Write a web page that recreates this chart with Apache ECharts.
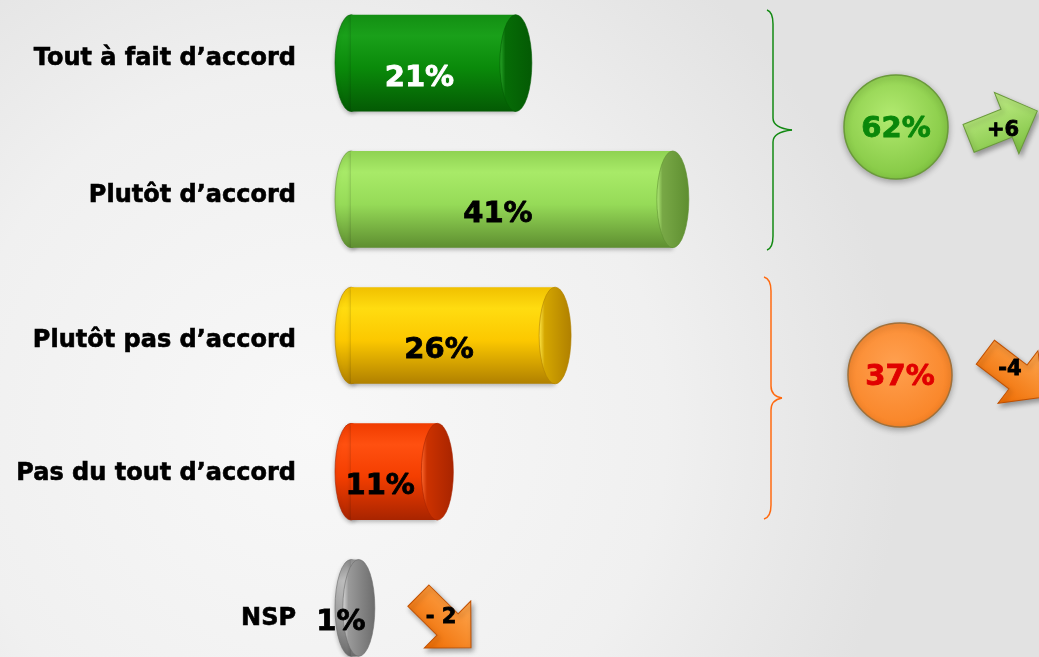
<!DOCTYPE html>
<html>
<head>
<meta charset="utf-8">
<script src="https://cdn.jsdelivr.net/npm/echarts@6/dist/echarts.min.js"></script>
<style>
  html, body { margin: 0; padding: 0; background: #efefef; }
  #chart { width: 1039px; height: 657px; }
</style>
</head>
<body>
<div id="chart"></div>
<script>
// Answer categories and their shares (%)
const categories = ['Tout à fait d’accord', 'Plutôt d’accord', 'Plutôt pas d’accord', 'Pas du tout d’accord', 'NSP'];
const values = [21, 41, 26, 11, 1];
// Grouped totals: agree / disagree
const groupTotals = [62, 37];
// Change versus previous wave
const changes = ['+6', '-4', '- 2'];

// Cylinder palettes: [top, light, base, bottom, cap, capRim]
const palettes = [
  ['#138f13', '#1aa01a', '#0a8a0a', '#045a04', '#066c06', '#2aa82a'],
  ['#8fd252', '#a8ea68', '#96db58', '#5e8e30', '#78a846', '#b4f07a'],
  ['#f0c000', '#ffdc10', '#fcc800', '#b08000', '#d4a600', '#ffe84a'],
  ['#f03c00', '#ff5010', '#f43e00', '#a82400', '#cc3200', '#ff6a30'],
  ['#8c8c8c', '#bdbdbd', '#a2a2a2', '#6c6c6c', '#9a9a9a', '#dadada']
];
const labelColors = ['#ffffff', '#000000', '#000000', '#000000', '#000000'];
// small vertical nudges (px) of the category captions
const captionShift = [-4, -4, 5, 2, 11];

const FONT = '"DejaVu Sans", Verdana, sans-serif';

function vGrad(p) {
  return new echarts.graphic.LinearGradient(0, 0, 0, 1, [
    { offset: 0, color: p[0] },
    { offset: 0.22, color: p[1] },
    { offset: 0.55, color: p[2] },
    { offset: 1, color: p[3] }
  ]);
}

function ellipsePath(cx, cy, rx, ry) {
  return 'M' + (cx - rx) + ',' + cy +
    ' A' + rx + ',' + ry + ' 0 1 0 ' + (cx + rx) + ',' + cy +
    ' A' + rx + ',' + ry + ' 0 1 0 ' + (cx - rx) + ',' + cy + ' Z';
}

// bold text with a thin outline in its own colour for extra weight
function heavyText(x, y, text, color, size) {
  return { type: 'text', x: x, y: y,
    style: { text: text, fill: color, stroke: color, lineWidth: 0.8, font: 'bold ' + size + 'px ' + FONT,
             align: 'center', verticalAlign: 'middle' } };
}

function renderCylinder(params, api) {
  const idx = api.value(1);
  const p = palettes[idx];
  const end = api.coord([api.value(0), idx]);
  const start = api.coord([0, idx]);
  const h = api.size([0, 1])[1] * 0.71;
  const ry = h / 2;
  const rx = 16;
  const cy = end[1];
  const len = end[0] - start[0];
  return {
    type: 'group',
    children: [
      { type: 'path', shape: { pathData: ellipsePath(start[0], cy, rx, ry) },
        style: { fill: vGrad(p), stroke: p[3], lineWidth: 0.6, shadowBlur: 4, shadowColor: 'rgba(0,0,0,0.25)', shadowOffsetY: 2 } },
      { type: 'rect', shape: { x: start[0], y: cy - ry, width: len, height: h },
        style: { fill: vGrad(p), shadowBlur: 4, shadowColor: 'rgba(0,0,0,0.25)', shadowOffsetY: 2 } },
      { type: 'path', shape: { pathData: ellipsePath(end[0], cy, rx, ry) },
        style: { fill: new echarts.graphic.LinearGradient(0, 0, 1, 0, [
            { offset: 0, color: p[5] },
            { offset: 0.18, color: p[4] },
            { offset: 1, color: p[3] }
          ]), stroke: p[3], lineWidth: 0.6 } },
      heavyText(start[0] + len / 2 - 14, cy + 15, api.value(0) + '%', labelColors[idx], 29)
    ]
  };
}

// Curly brace made of quadratic curves and straight strokes
function brace(x0, xv, xt, y0, ym, y1, color) {
  const st = { stroke: color, lineWidth: 1.5, fill: 'none' };
  const q = (a, b, c, d, e, f) => ({ type: 'bezierCurve', shape: { x1: a, y1: b, cpx1: c, cpy1: d, x2: e, y2: f }, style: st });
  const l = (a, b, c, d) => ({ type: 'line', shape: { x1: a, y1: b, x2: c, y2: d }, style: st });
  return {
    type: 'group',
    children: [
      q(x0, y0, xv, y0 + 2, xv, y0 + 14),
      l(xv, y0 + 14, xv, ym - 12),
      q(xv, ym - 12, xv, ym - 2, xt, ym),
      q(xt, ym, xv, ym + 2, xv, ym + 12),
      l(xv, ym + 12, xv, y1 - 14),
      q(xv, y1 - 14, xv, y1 - 2, x0, y1)
    ]
  };
}

// Block arrow pointing along +x, centred on the origin
const arrowPts = [[-36, -15], [5, -15], [5, -33], [38, 0], [5, 33], [5, 15], [-36, 15]];

function arrow(cx, cy, rot, c1, c2, edge, label, tx, ty) {
  return {
    type: 'group', x: cx, y: cy,
    children: [
      { type: 'polygon', rotation: rot, shape: { points: arrowPts },
        style: { fill: new echarts.graphic.LinearGradient(0, 0, 0, 1, [
            { offset: 0, color: c1 }, { offset: 1, color: c2 }]),
          stroke: edge, lineWidth: 1, shadowBlur: 5, shadowColor: 'rgba(0,0,0,0.35)', shadowOffsetX: 2, shadowOffsetY: 3 } },
      heavyText(tx, ty, label, '#000', 21)
    ]
  };
}

function bubble(cx, cy, r, c1, c2, edge, textColor, label) {
  return {
    type: 'group', x: cx, y: cy,
    children: [
      { type: 'circle', shape: { cx: 0, cy: 0, r: r },
        style: { fill: new echarts.graphic.RadialGradient(0.45, 0.4, 0.7, [
            { offset: 0, color: c1 }, { offset: 1, color: c2 }]),
          stroke: edge, lineWidth: 1.5, shadowBlur: 6, shadowColor: 'rgba(0,0,0,0.3)', shadowOffsetY: 2 } },
      heavyText(0, 2, label, textColor, 29)
    ]
  };
}

const rich = {};
captionShift.forEach((d, i) => {
  rich['c' + i] = {
    color: '#000', fontSize: 24, fontWeight: 'bold', fontFamily: FONT,
    textBorderColor: '#000', textBorderWidth: 0.6,
    padding: d >= 0 ? [2 * d, 0, 0, 0] : [0, 0, -2 * d, 0]
  };
});

const chart = echarts.init(document.getElementById('chart'));
chart.setOption({
  animation: false,
  graphic: [
    { type: 'rect', z: -10, silent: true, shape: { x: 0, y: 0, width: 1039, height: 657 },
      style: { fill: new echarts.graphic.RadialGradient(0.3, 0.65, 0.9, [
          { offset: 0, color: '#f8f8f8' }, { offset: 0.6, color: '#f0f0f0' }, { offset: 1, color: '#e2e2e2' }]) } },
    // braces grouping agree / disagree answers
    brace(767, 773, 792, 10, 130, 250, '#138a13'),
    brace(764, 771, 782, 277, 398, 519, '#ff6a10'),
    bubble(896, 127, 52, '#b2ea70', '#7cc23c', '#6a9a3a', '#0a870a', groupTotals[0] + '%'),
    bubble(900, 375, 52, '#ffa050', '#f88020', '#a0703a', '#e00000', groupTotals[1] + '%'),
    arrow(1002, 125, 0.38, '#c4f08a', '#7cc040', '#6a9a3a', changes[0], 1, 6),
    arrow(1014, 374, -0.65, '#ffa850', '#ee6a00', '#c05000', changes[1], -4, -4),
    arrow(444, 621, -0.78, '#ffa850', '#ee6a00', '#c05000', changes[2], -3, -3)
  ],
  grid: { left: 351, right: 217, top: -5, bottom: -19, containLabel: false, outerBoundsMode: 'none' },
  xAxis: { type: 'value', min: 0, max: 60, show: false },
  yAxis: {
    type: 'category', data: categories, inverse: true,
    axisLine: { show: false }, axisTick: { show: false }, splitLine: { show: false },
    axisLabel: {
      margin: 55, color: '#000', fontSize: 24, fontWeight: 'bold', fontFamily: FONT,
      formatter: (v, i) => '{c' + i + '|' + v + '}',
      rich: rich
    }
  },
  series: [{
    type: 'custom',
    renderItem: renderCylinder,
    encode: { x: 0, y: 1 },
    clip: false,
    data: values.map((v, i) => [v, i])
  }]
});
</script>
</body>
</html>
